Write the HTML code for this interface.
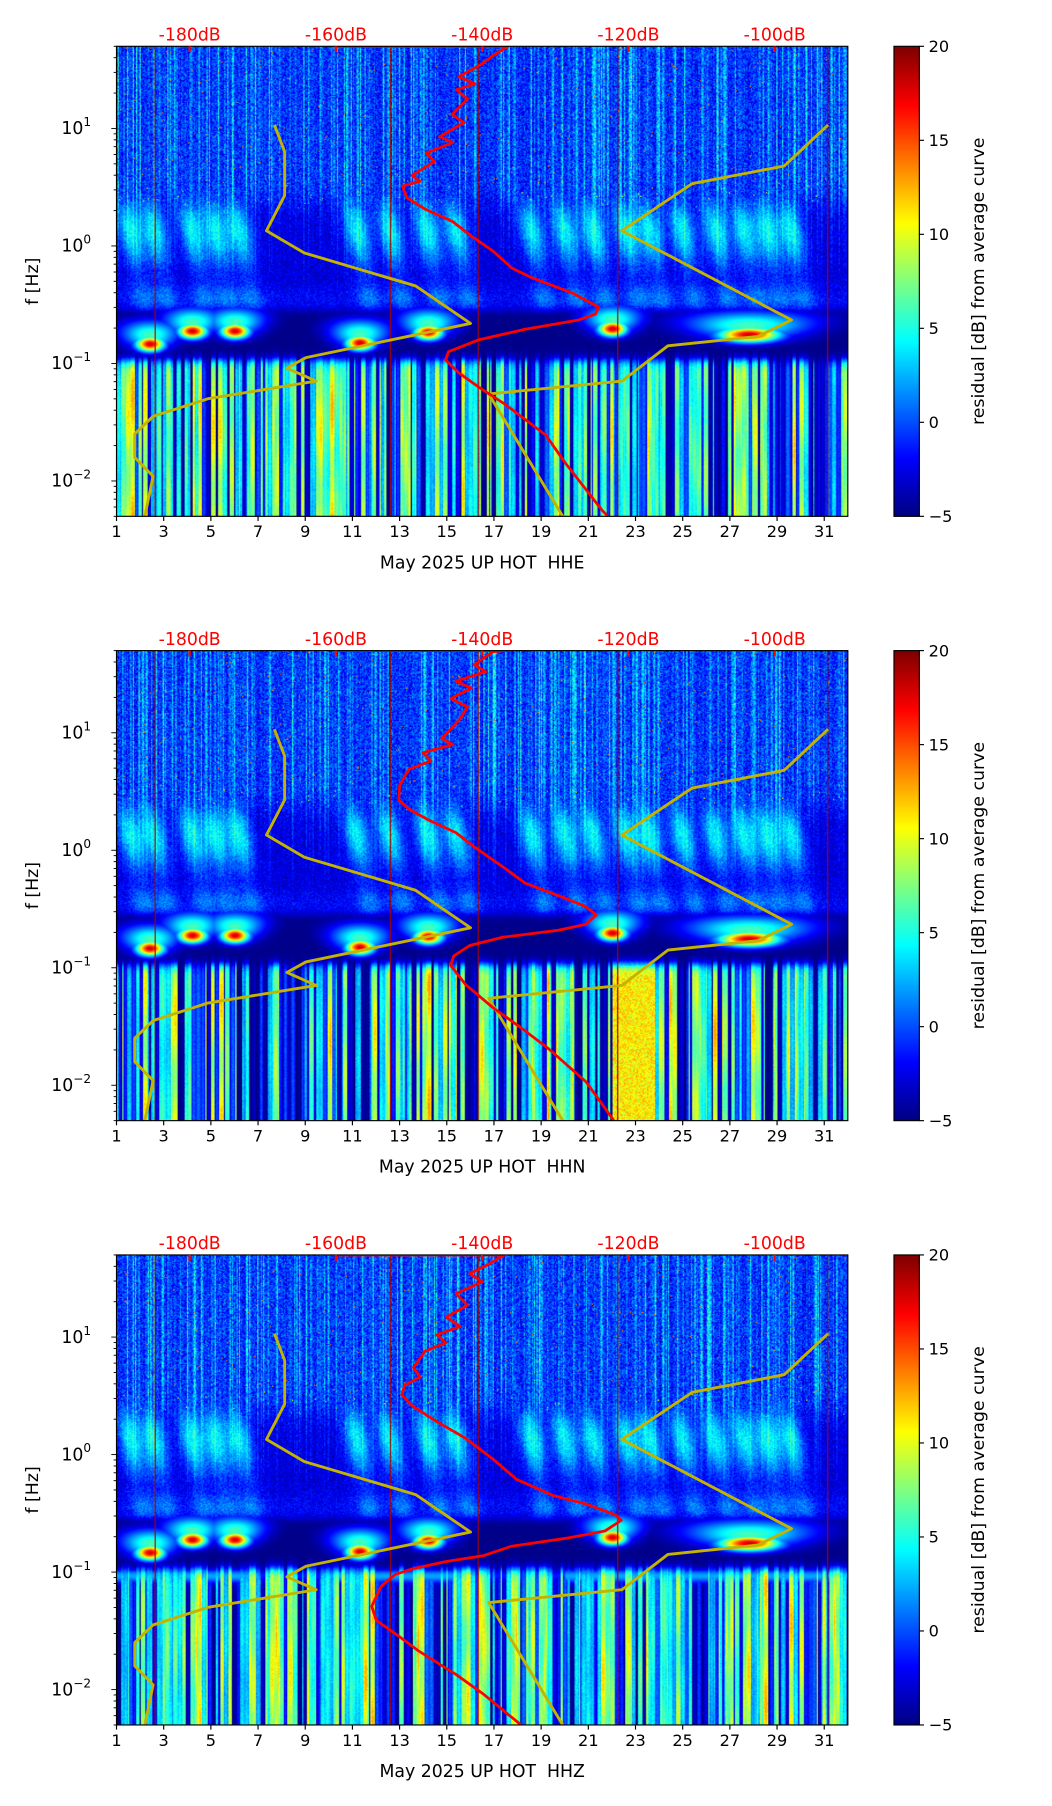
<!DOCTYPE html>
<html><head><meta charset="utf-8"><style>
html,body{margin:0;padding:0;background:#fff;}
#wrap{position:relative;width:1052px;height:1806px;overflow:hidden;}
#spec{position:absolute;left:0;top:0;width:1052px;height:1806px;}
#chart{position:absolute;left:0;top:0;}
text{font-family:"DejaVu Sans","Liberation Sans",sans-serif;}
</style></head><body>
<div id="wrap">
<canvas id="spec" width="912" height="1560"></canvas>
<svg id="chart" width="1052" height="1806" viewBox="0 0 912 1560" preserveAspectRatio="none" xmlns="http://www.w3.org/2000/svg"></svg>
</div>
<script>
// ---------- data ----------
const dayTicks = [1,3,5,7,9,11,13,15,17,19,21,23,25,27,29,31];
const dbTicks = [-180,-160,-140,-120,-100];
const cbTicks = [-5,0,5,10,15,20];
const yDecades = [-2,-1,0,1];
const channels = ["HHE","HHN","HHZ"];
const nlnmDb = [-168.4,-167.0,-167.0,-169.5,-164.3,-149.1,-141.6,-164.1,-166.7,-162.7,-177.5,-185.0,-187.5,-187.5,-185.0,-186.3];
const nlnmLogF = [1.03,0.80,0.43,0.13,-0.06,-0.34,-0.66,-0.95,-1.04,-1.15,-1.30,-1.45,-1.60,-1.80,-1.96,-2.35];
const nhnmDb = [-92.7,-98.7,-111.3,-120.9,-97.7,-102.3,-114.6,-120.9,-139.1,-128.5];
const nhnmLogF = [1.03,0.68,0.53,0.13,-0.63,-0.77,-0.85,-1.15,-1.26,-2.35];
const redDb1 = [-160,-136.5,-138.5,-140,-143.2,-141,-143.5,-142,-144.1,-142.5,-145.8,-144,-147.7,-146.5,-149.6,-148.5,-150.9,-150.3,-147.7,-144.1,-141.4,-138.6,-135.9,-133.2,-127.7,-124.1,-124.5,-126.8,-134.2,-140.5,-144.6,-145.0,-143.2,-140.5,-136.8,-131.3,-128.6,-123.6,-122.8];
const redLogF1 = [1.699,1.699,1.62,1.55,1.44,1.38,1.33,1.25,1.12,1.05,0.93,0.88,0.79,0.72,0.60,0.55,0.51,0.41,0.31,0.21,0.08,-0.04,-0.19,-0.27,-0.40,-0.52,-0.58,-0.63,-0.71,-0.80,-0.90,-0.97,-1.08,-1.20,-1.35,-1.61,-1.85,-2.25,-2.30];
const redDb2 = [-160,-137,-138.5,-141.1,-139.5,-143.6,-141.5,-144.3,-142,-143.0,-145.5,-144,-148.1,-147,-150.0,-151.3,-151.4,-150.0,-147.4,-143.6,-141.1,-137.2,-134.1,-129.0,-125.8,-124.4,-125.8,-129.6,-137.2,-141.7,-143.9,-144.3,-142.3,-138.5,-134.7,-130.9,-125.8,-122.0];
const redLogF2 = [1.699,1.699,1.69,1.58,1.52,1.44,1.38,1.29,1.22,1.12,0.95,0.90,0.83,0.76,0.69,0.55,0.43,0.35,0.26,0.15,0.03,-0.14,-0.28,-0.40,-0.48,-0.55,-0.63,-0.68,-0.74,-0.81,-0.90,-0.98,-1.14,-1.34,-1.51,-1.69,-1.97,-2.30];
const redDb3 = [-160,-137,-139.1,-141.7,-140,-143.6,-142,-144.9,-143,-146.2,-145,-147.8,-149.4,-148.5,-150.6,-151.0,-149.7,-146.2,-142.3,-138.5,-135.3,-130.2,-125.8,-121.9,-121.0,-123.2,-128.3,-136.0,-139.8,-144.9,-149.4,-151.9,-153.8,-155.1,-154.5,-151.3,-148.7,-143.6,-139.8,-134.7];
const redLogF3 = [1.699,1.699,1.62,1.54,1.47,1.37,1.27,1.17,1.09,1.02,0.95,0.88,0.74,0.66,0.59,0.51,0.42,0.28,0.14,-0.04,-0.21,-0.35,-0.42,-0.51,-0.56,-0.65,-0.71,-0.78,-0.86,-0.91,-0.97,-1.02,-1.12,-1.29,-1.41,-1.55,-1.67,-1.87,-2.04,-2.30];
const redDbAll = [redDb1, redDb2, redDb3];
const redLogFAll = [redLogF1, redLogF2, redLogF3];
// storm events (day, log10 f) for background texture
const hotDays = [2.4,4.2,6.0,11.3,14.2,22.0,27.8];
const hotLogF = [-0.83,-0.72,-0.72,-0.82,-0.73,-0.70,-0.75];
const stormDays = [1.6,2.6,4.2,5.2,6.2,11.2,12.6,14.2,15.4,18.6,20.0,21.2,22.6,23.6,25.0,26.4,27.6,28.6,29.6];
const redLineDays = [2.6,12.6,16.3,22.2,31.1];

// ---------- layout (display units) ----------
const PX0 = 101, PX1 = 735, PH = 406, PTOP = [40, 562, 1084];
const CBX0 = 775, CBX1 = 797;
const DAY0 = 1, DAY1 = 32, DB0 = -190, DB1 = -90, LF0 = Math.log10(0.005), LF1 = Math.log10(50);
const xDay = d => PX0 + (d - DAY0) / (DAY1 - DAY0) * (PX1 - PX0);
const xDb = db => PX0 + (db - DB0) / (DB1 - DB0) * (PX1 - PX0);
const yLf = (lf, p) => PTOP[p] + (LF1 - lf) / (LF1 - LF0) * PH;
const yCb = (v, p) => PTOP[p] + (20 - v) / 25 * PH;

// ---------- spectrogram texture ----------
function mulberry(a){return function(){a|=0;a=a+0x6D2B79F5|0;let t=Math.imul(a^a>>>15,1|a);t=t+Math.imul(t^t>>>7,61|t)^t;return((t^t>>>14)>>>0)/4294967296;}}
function jet(v){const t=Math.max(0,Math.min(1,(v+5)/25));const c=x=>Math.round(255*Math.max(0,Math.min(1,1.5-Math.abs(x))));return [c(4*t-3),c(4*t-2),c(4*t-1)];}
const sig = x => 1/(1+Math.exp(-x));
const cv = document.getElementById('spec'), ctx = cv.getContext('2d');
const W = PX1 - PX0;
for (let p = 0; p < 3; p++) {
  const rnd = mulberry(1234 + p*77);
  const hi = new Float32Array(W), lo = new Float32Array(W), loPh = new Float32Array(W);
  for (let i = 0; i < W; i++) { hi[i] = rnd() > 0.62 ? rnd()*7.5 : rnd()*2.2; }
  let i0 = 0;
  while (i0 < W) {
    const w = 1 + Math.floor(rnd()*4);
    const val = rnd() > 0.4 ? 3 + rnd()*10 : -5 + rnd()*6;
    const ph = rnd();
    for (let k = 0; k < w && i0 < W; k++, i0++) { lo[i0] = val - (k===0||k===w-1 ? 1.2 : 0); loPh[i0] = ph; }
  }
  const img = ctx.createImageData(W, PH);
  for (let j = 0; j < PH; j++) {
    const lf = LF1 - j / PH * (LF1 - LF0);
    const wHigh = sig((lf-0.38)/0.07), wLow = sig((-0.97-lf)/0.025);
    for (let i = 0; i < W; i++) {
      const day = DAY0 + i / W * (DAY1 - DAY0);
      const n = rnd()*2-1;
      let vh = -1.5 + n*2.2 + hi[i]*(0.5 + 0.5*rnd());
      if (rnd() > 0.995) vh = 14;
      let vm = -3.0 + n*1.3 + hi[i]*0.3*sig((lf+0.2)/0.1);
      let storm = 0;
      for (let k = 0; k < stormDays.length; k++) {
        const dd = (day - stormDays[k] + (lf-0.1)*0.9) / 0.5;
        storm += Math.exp(-dd*dd);
      }
      vm += 7*Math.min(1.3,storm) * Math.exp(-Math.pow((lf-0.15)/0.33,2));
      vm += 4*Math.min(1,storm*0.8+0.25) * Math.exp(-Math.pow((lf+0.45)/0.13,2));
      vm = vm*(1-sig((-0.55-lf)/0.02)) + (-5 + rnd()*0.5)*sig((-0.55-lf)/0.02);
      const vert = 0.85 + 0.15*Math.sin((lf*6 + loPh[i]*6.28));
      let vl = lo[i] > 0 ? lo[i]*vert + n*0.8 : lo[i] + n*0.5;
      if (p === 1 && day > 22 && day < 23.8) vl = 9 + rnd()*4;
      if (p === 2) vl = Math.max(vl, -5 + 8*Math.exp(-Math.pow((lf+1.02)/0.07,2)) * ((day<7||(day>10&&day<16)||day>20)?1:0.5));
      let v = wHigh*vh + (1-wHigh)*((1-wLow)*vm + wLow*vl);
      for (let k = 0; k < hotDays.length; k++) {
        const w = k === 6 ? 1.3 : 0.6;
        const dd = (day - hotDays[k]) / w, dl = (lf - hotLogF[k]) / 0.065;
        v = Math.max(v, -5 + 23 * Math.exp(-(dd*dd + dl*dl)));
        const hd = (day - hotDays[k]) / (w*(1.8 + 2.5*Math.max(0, lf - hotLogF[k]))), hl = (lf - hotLogF[k] - 0.08) / 0.12;
        v = Math.max(v, -5 + 11 * Math.exp(-(hd*hd + hl*hl)));
      }
      for (let k = 0; k < redLineDays.length; k++) if (Math.abs(day - redLineDays[k]) < 0.025) v = 19;
      const c = jet(v), o = (j*W + i)*4;
      img.data[o]=c[0]; img.data[o+1]=c[1]; img.data[o+2]=c[2]; img.data[o+3]=255;
    }
  }
  ctx.putImageData(img, PX0, PTOP[p]);
  for (let j = 0; j < PH; j++) {
    const c = jet(20 - j/PH*25);
    ctx.fillStyle = `rgb(${c[0]},${c[1]},${c[2]})`;
    ctx.fillRect(CBX0, PTOP[p] + j, CBX1 - CBX0, 1);
  }
}

// ---------- SVG overlay ----------
const NS = "http://www.w3.org/2000/svg", svg = document.getElementById('chart');
function mk(tag, attrs, parent) { const e = document.createElementNS(NS, tag); for (const k in attrs) e.setAttribute(k, attrs[k]); (parent||svg).appendChild(e); return e; }
function poly(dbs, lfs, p, color, w, g) {
  const pts = dbs.map((d,i)=> xDb(d).toFixed(1)+','+yLf(lfs[i],p).toFixed(1)).join(' ');
  return mk('polyline', {points: pts, fill:'none', stroke: color, 'stroke-width': w, 'stroke-linejoin':'round'}, g);
}
for (let p = 0; p < 3; p++) {
  const top = PTOP[p], bot = top + PH;
  const g = mk('g', {});
  
  
  const cp = mk('clipPath', {id:'clip'+p}, g);
  mk('rect', {x:PX0, y:top, width:W, height:PH}, cp);
  const lines = mk('g', {'clip-path':'url(#clip'+p+')'}, g);
  const l1 = poly(nlnmDb, nlnmLogF, p, '#c4b300', 2.5, lines);
  
  
  const l2 = poly(nhnmDb, nhnmLogF, p, '#c4b300', 2.5, lines);
  
  
  const l3 = poly(redDbAll[p], redLogFAll[p], p, '#ff0000', 2.4, lines);
  
  
  const fr = mk('rect', {x:PX0, y:top, width:W, height:PH, fill:'none', stroke:'#000', 'stroke-width':1}, g);
  
  
  dayTicks.forEach(d => {
    const x = xDay(d);
    mk('line', {x1:x, x2:x, y1:bot, y2:bot+4, stroke:'#000'}, g);
    const t = mk('text', {x:x, y:bot+18, 'font-size':14, 'text-anchor':'middle'}, g);
    t.textContent = d;
    
    
  });
  const xl = mk('text', {x:(PX0+PX1)/2, y:bot+45, 'font-size':15, 'text-anchor':'middle'}, g);
  xl.textContent = 'May 2025 UP HOT\u00a0 ' + channels[p];
  
  
  dbTicks.forEach(db => {
    const x = xDb(db);
    mk('line', {x1:x, x2:x, y1:top, y2:top+5, stroke:'#ff0000', 'stroke-width':2}, g);
    const t = mk('text', {x:x, y:top-5, 'font-size':15, fill:'#ff0000', 'text-anchor':'middle'}, g);
    t.textContent = db + 'dB';
    
    
  });
  for (let dec = -3; dec <= 1; dec++) for (let m = 1; m <= 9; m++) {
    const lf = dec + Math.log10(m);
    if (lf < LF0 || lf > LF1) continue;
    const y = yLf(lf, p);
    mk('line', {x1:PX0-(m===1?4.5:2.5), x2:PX0, y1:y, y2:y, stroke:'#000', 'stroke-width':0.8}, g);
  }
  yDecades.forEach(dec => {
    const y = yLf(dec, p);
    const t = mk('text', {x:PX0-22, y:y+5, 'font-size':15, 'text-anchor':'end'}, g);
    t.textContent = '10';
    const s = mk('tspan', {dy:-7, 'font-size':10.5}, t);
    s.textContent = dec < 0 ? '\u2212' + (-dec) : '' + dec;
    
    
  });
  const yl = mk('text', {x:0, y:0, 'font-size':15, 'text-anchor':'middle', transform:`translate(33,${top+PH/2}) rotate(-90)`}, g);
  yl.textContent = 'f [Hz]';
  
  
  const cb = mk('rect', {x:CBX0, y:top, width:CBX1-CBX0, height:PH, fill:'none', stroke:'#000', 'stroke-width':1}, g);
  
  
  cbTicks.forEach(v => {
    const y = yCb(v, p);
    mk('line', {x1:CBX1, x2:CBX1+4, y1:y, y2:y, stroke:'#000'}, g);
    const t = mk('text', {x:CBX1+8, y:y+5, 'font-size':14}, g);
    t.textContent = v < 0 ? '\u2212' + (-v) : '' + v;
    
    
  });
  const cl = mk('text', {x:0, y:0, 'font-size':15, 'text-anchor':'middle', transform:`translate(853,${top+PH/2}) rotate(-90)`}, g);
  cl.textContent = 'residual [dB] from average curve';
  
  
}
</script>
</body></html>
